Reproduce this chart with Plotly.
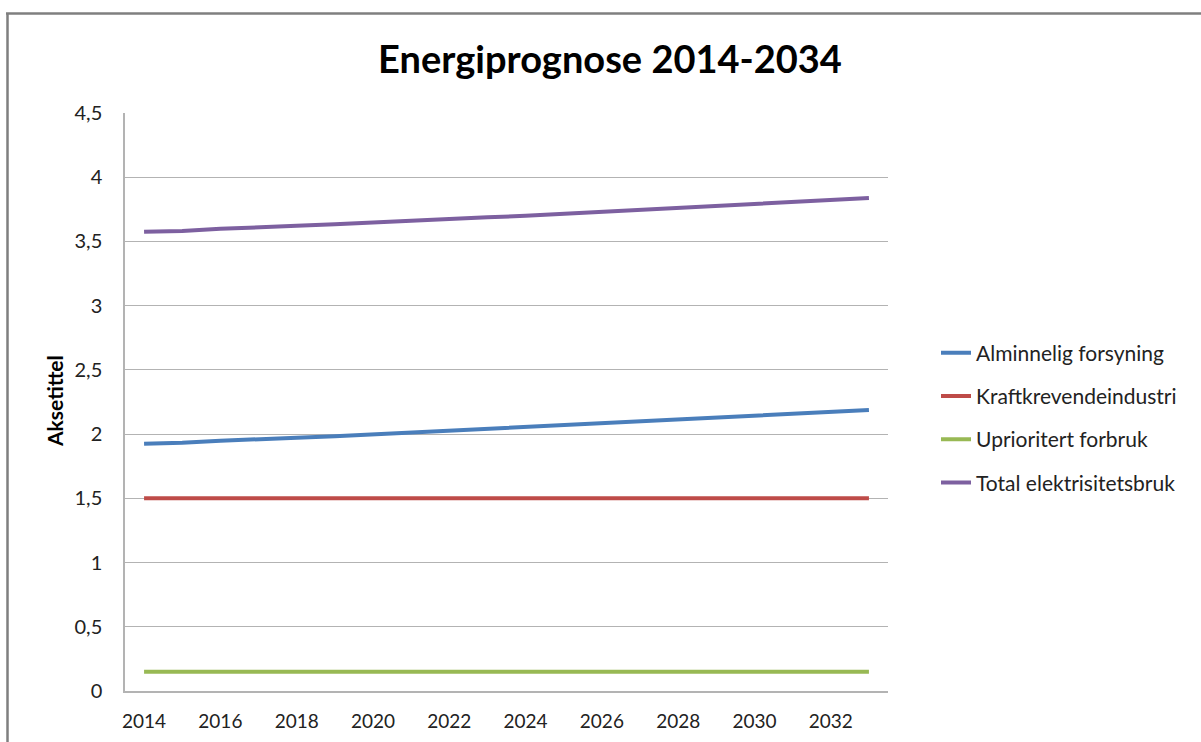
import plotly.graph_objects as go

years = list(range(2014, 2034))
alminnelig = [1.925, 1.932, 1.948, 1.957, 1.972, 1.983, 1.998, 2.012, 2.022, 2.038,
              2.050, 2.066, 2.082, 2.095, 2.111, 2.128, 2.140, 2.158, 2.175, 2.188]
kraftkrevende = [1.5] * 20
uprioritert = [0.15] * 20
total = [3.575, 3.582, 3.598, 3.607, 3.622, 3.633, 3.648, 3.662, 3.672, 3.688,
         3.700, 3.716, 3.732, 3.745, 3.761, 3.778, 3.790, 3.808, 3.825, 3.838]

series_names = ["Alminnelig forsyning", "Kraftkrevendeindustri",
                "Uprioritert forbruk", "Total elektrisitetsbruk"]
series_values = [alminnelig, kraftkrevende, uprioritert, total]
colors = ["#4A7EBB", "#BE4B48", "#98B954", "#7D60A0"]

x_ticks = list(range(2014, 2033, 2))
y_ticks = [0, 0.5, 1, 1.5, 2, 2.5, 3, 3.5, 4, 4.5]

W, H = 1201, 742
L, R, T, B = 125, 888, 113, 691

fig = go.Figure()
for i, (name, vals, c) in enumerate(zip(series_names, series_values, colors)):
    fig.add_trace(go.Scatter(x=years, y=vals, mode="lines", name=name,
                             line=dict(color=c, width=4), legendgroup=f"g{i}"))

font = "Lato, 'Open Sans', sans-serif"

def px_x(p):
    return (p - L) / (R - L)

def px_y(p):
    return (B - p) / (B - T)

fig.update_layout(
    width=W, height=H,
    margin=dict(l=L, r=W - R, t=T, b=H - B),
    paper_bgcolor="white", plot_bgcolor="white",
    separators=",.",
    font=dict(family=font, size=19, color="#222222"),
    title=dict(text="<b>Energiprognose 2014-2034</b>", x=610 / W, xanchor="center",
               y=1 - 60 / H, yanchor="middle", font=dict(size=38, color="#000000")),
    showlegend=True,
    legend=dict(x=px_x(936), xanchor="left", y=px_y(418), yanchor="middle",
                font=dict(size=21, color="#222222"), tracegroupgap=13,
                bgcolor="rgba(0,0,0,0)"),
    xaxis=dict(range=[2013.5, 2033.5], tickvals=x_ticks, ticktext=[str(v) for v in x_ticks],
               showgrid=False, zeroline=False, showline=True, linecolor="#B3B3B3", linewidth=1.5,
               ticks="", ticklabelstandoff=12, fixedrange=True, automargin=False,
               tickfont=dict(size=19)),
    yaxis=dict(range=[0, 4.5], tickvals=y_ticks, showgrid=True, gridcolor="#B3B3B3", gridwidth=1,
               zeroline=False, showline=True, linecolor="#B3B3B3", linewidth=1.5,
               ticks="", ticklabelstandoff=17, fixedrange=True, automargin=False,
               tickfont=dict(size=20)),
    annotations=[dict(text="<b>Aksetittel</b>", textangle=-90, x=px_x(54), y=px_y(401),
                      xref="paper", yref="paper", xanchor="center", yanchor="middle",
                      showarrow=False, font=dict(size=21, color="#000000"))],
    shapes=[
        dict(type="line", xref="paper", yref="paper", x0=px_x(7.5), x1=px_x(7.5),
             y0=px_y(13.5), y1=px_y(760), line=dict(color="#7F7F7F", width=2.5)),
        dict(type="line", xref="paper", yref="paper", x0=px_x(6), x1=px_x(1210),
             y0=px_y(13.5), y1=px_y(13.5), line=dict(color="#7F7F7F", width=2.5)),
    ],
)

fig.write_html("out.html")
